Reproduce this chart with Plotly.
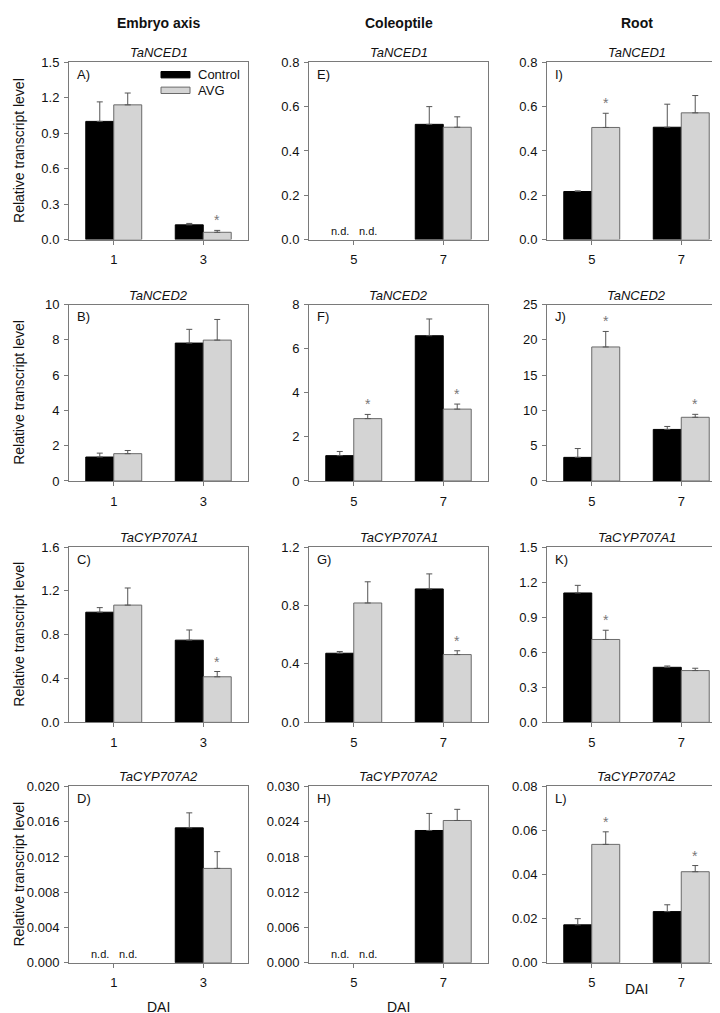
import plotly.graph_objects as go

# ---------------- data ----------------
tissues = ["Embryo axis", "Coleoptile", "Root"]
genes = ["TaNCED1", "TaNCED2", "TaCYP707A1", "TaCYP707A2"]
days_embryo = ["1", "3"]
days_coleoptile = ["5", "7"]
days_root = ["5", "7"]
letters = [["A)", "E)", "I)"], ["B)", "F)", "J)"], ["C)", "G)", "K)"], ["D)", "H)", "L)"]]

# None = n.d. (not detected)
a_ctrl = [1.00, 0.125]; a_ctrl_err = [0.165, 0.012]; a_avg = [1.14, 0.062]; a_avg_err = [0.10, 0.016]; a_sig = [False, True]
e_ctrl = [None, 0.52]; e_ctrl_err = [0, 0.08]; e_avg = [None, 0.507]; e_avg_err = [0, 0.047]; e_sig = [False, False]
i_ctrl = [0.217, 0.507]; i_ctrl_err = [0.003, 0.104]; i_avg = [0.506, 0.572]; i_avg_err = [0.064, 0.078]; i_sig = [True, False]

b_ctrl = [1.36, 7.82]; b_ctrl_err = [0.22, 0.78]; b_avg = [1.55, 7.99]; b_avg_err = [0.18, 1.17]; b_sig = [False, False]
f_ctrl = [1.15, 6.59]; f_ctrl_err = [0.19, 0.76]; f_avg = [2.83, 3.26]; f_avg_err = [0.19, 0.23]; f_sig = [True, True]
j_ctrl = [3.35, 7.31]; j_ctrl_err = [1.25, 0.42]; j_avg = [19.0, 9.03]; j_avg_err = [2.2, 0.42]; j_sig = [True, True]

c_ctrl = [1.005, 0.75]; c_ctrl_err = [0.042, 0.093]; c_avg = [1.07, 0.416]; c_avg_err = [0.156, 0.048]; c_sig = [False, True]
g_ctrl = [0.473, 0.913]; g_ctrl_err = [0.012, 0.103]; g_avg = [0.817, 0.464]; g_avg_err = [0.145, 0.026]; g_sig = [False, True]
k_ctrl = [1.107, 0.471]; k_ctrl_err = [0.065, 0.011]; k_avg = [0.709, 0.443]; k_avg_err = [0.079, 0.02]; k_sig = [True, False]

d_ctrl = [None, 0.0153]; d_ctrl_err = [0, 0.0017]; d_avg = [None, 0.0107]; d_avg_err = [0, 0.0019]; d_sig = [False, False]
h_ctrl = [None, 0.0225]; h_ctrl_err = [0, 0.0029]; h_avg = [None, 0.0242]; h_avg_err = [0, 0.0019]; h_sig = [False, False]
l_ctrl = [0.0172, 0.0232]; l_ctrl_err = [0.0028, 0.0031]; l_avg = [0.0537, 0.0413]; l_avg_err = [0.0057, 0.0028]; l_sig = [True, True]

# y axis max, tick step, tick format per panel
a_axis = (1.5, 0.3, ".1f"); e_axis = (0.8, 0.2, ".1f"); i_axis = (0.8, 0.2, ".1f")
b_axis = (10, 2, "d"); f_axis = (8, 2, "d"); j_axis = (25, 5, "d")
c_axis = (1.6, 0.4, ".1f"); g_axis = (1.2, 0.4, ".1f"); k_axis = (1.5, 0.3, ".1f")
d_axis = (0.020, 0.004, ".3f"); h_axis = (0.030, 0.006, ".3f"); l_axis = (0.08, 0.02, ".2f")

panels = [
    [(days_embryo, a_ctrl, a_ctrl_err, a_avg, a_avg_err, a_sig, a_axis),
     (days_coleoptile, e_ctrl, e_ctrl_err, e_avg, e_avg_err, e_sig, e_axis),
     (days_root, i_ctrl, i_ctrl_err, i_avg, i_avg_err, i_sig, i_axis)],
    [(days_embryo, b_ctrl, b_ctrl_err, b_avg, b_avg_err, b_sig, b_axis),
     (days_coleoptile, f_ctrl, f_ctrl_err, f_avg, f_avg_err, f_sig, f_axis),
     (days_root, j_ctrl, j_ctrl_err, j_avg, j_avg_err, j_sig, j_axis)],
    [(days_embryo, c_ctrl, c_ctrl_err, c_avg, c_avg_err, c_sig, c_axis),
     (days_coleoptile, g_ctrl, g_ctrl_err, g_avg, g_avg_err, g_sig, g_axis),
     (days_root, k_ctrl, k_ctrl_err, k_avg, k_avg_err, k_sig, k_axis)],
    [(days_embryo, d_ctrl, d_ctrl_err, d_avg, d_avg_err, d_sig, d_axis),
     (days_coleoptile, h_ctrl, h_ctrl_err, h_avg, h_avg_err, h_sig, h_axis),
     (days_root, l_ctrl, l_ctrl_err, l_avg, l_avg_err, l_sig, l_axis)],
]

# ---------------- layout / style ----------------
W, H = 720, 1013
FONT = "Arial, Liberation Sans, Helvetica, sans-serif"
AXIS_COLOR = "#7a7a7a"
CTRL_COLOR = "#000000"
AVG_COLOR = "#d4d4d4"
AVG_LINE = "#6a6a6a"
ERR_COLOR = "#555555"
BARGAP = 0.375
cols_px = [(61, 240), (301, 480), (539, 718)]
rows_px = [(48, 228), (294, 473), (540, 718), (783, 962)]

fig = go.Figure()
annotations = []
shapes = []
layout_axes = {}
half = (1 - BARGAP) / 4  # offset of each bar centre from category centre

for r in range(4):
    for c in range(3):
        idx = r * 3 + c + 1
        xa = "x" if idx == 1 else f"x{idx}"
        ya = "y" if idx == 1 else f"y{idx}"
        days, ctrl, ctrl_err, avg, avg_err, sig, (ymax, dt, fmt) = panels[r][c]
        x0, x1 = cols_px[c]
        y0, y1 = rows_px[r]

        fig.add_trace(go.Bar(
            x=days, y=ctrl, name="Control", xaxis=xa, yaxis=ya, showlegend=False,
            marker=dict(color=CTRL_COLOR, line=dict(color=CTRL_COLOR, width=1)),
            error_y=dict(type="data", array=ctrl_err, arrayminus=[0] * len(ctrl_err), symmetric=False,
                         color=ERR_COLOR, thickness=1, width=3),
        ))
        fig.add_trace(go.Bar(
            x=days, y=avg, name="AVG", xaxis=xa, yaxis=ya, showlegend=False,
            marker=dict(color=AVG_COLOR, line=dict(color=AVG_LINE, width=1)),
            error_y=dict(type="data", array=avg_err, arrayminus=[0] * len(avg_err), symmetric=False,
                         color=ERR_COLOR, thickness=1, width=3),
        ))

        xkey = "xaxis" if idx == 1 else f"xaxis{idx}"
        ykey = "yaxis" if idx == 1 else f"yaxis{idx}"
        layout_axes[xkey] = dict(
            domain=[x0 / W, x1 / W], anchor=ya, type="category", range=[-0.5, len(days) - 0.5],
            showline=True, linecolor=AXIS_COLOR, linewidth=1, mirror=True,
            ticks="outside", ticklen=4, tickcolor=AXIS_COLOR, tickwidth=1,
            showgrid=False, zeroline=False, ticklabelstandoff=4,
            tickfont=dict(family=FONT, size=13, color="#111"),
        )
        layout_axes[ykey] = dict(
            domain=[1 - y1 / H, 1 - y0 / H], anchor=xa, range=[0, ymax],
            tick0=0, dtick=dt, tickformat=fmt,
            showline=True, linecolor=AXIS_COLOR, linewidth=1, mirror=True,
            ticks="outside", ticklen=4, tickcolor=AXIS_COLOR, tickwidth=1,
            showgrid=False, zeroline=False, ticklabelstandoff=2,
            tickfont=dict(family=FONT, size=13, color="#111"),
        )

        # gene title
        annotations.append(dict(text=f"<i>{genes[r]}</i>", xref=f"{xa} domain", yref=f"{ya} domain",
                                x=0.5, y=1, yanchor="bottom", yshift=0, showarrow=False,
                                font=dict(family=FONT, size=13, color="#111")))
        # panel letter
        annotations.append(dict(text=letters[r][c], xref=f"{xa} domain", yref=f"{ya} domain",
                                x=0.035, y=0.93, xanchor="left", yanchor="middle", showarrow=False,
                                font=dict(family=FONT, size=13, color="#111")))
        # n.d. and significance marks
        for k, d in enumerate(days):
            if ctrl[k] is None:
                annotations.append(dict(text="n.d.", xref=xa, yref=ya, x=k - half, y=0,
                                        yanchor="bottom", yshift=1, showarrow=False,
                                        font=dict(family=FONT, size=11, color="#111")))
            if avg[k] is None:
                annotations.append(dict(text="n.d.", xref=xa, yref=ya, x=k + half, y=0,
                                        yanchor="bottom", yshift=1, showarrow=False,
                                        font=dict(family=FONT, size=11, color="#111")))
            if sig[k]:
                annotations.append(dict(text="*", xref=xa, yref=ya, x=k + half, y=avg[k] + avg_err[k],
                                        yanchor="bottom", yshift=0, showarrow=False,
                                        font=dict(family=FONT, size=14, color="#777")))

    # y axis title (first column only)
    y0, y1 = rows_px[r]
    annotations.append(dict(text="Relative transcript level", xref="paper", yref="paper",
                            x=11 / W, y=1 - (y0 + y1) / 2 / H, textangle=-90,
                            xanchor="center", yanchor="middle", showarrow=False,
                            font=dict(family=FONT, size=14, color="#111")))

# column headers
for c, t in enumerate(tissues):
    x0, x1 = cols_px[c]
    annotations.append(dict(text=f"<b>{t}</b>", xref="paper", yref="paper",
                            x=(x0 + x1) / 2 / W, y=1 - 8 / H, xanchor="center", yanchor="middle",
                            showarrow=False, font=dict(family=FONT, size=14, color="#111")))

# DAI labels
dai_y = [1007, 1007, 989]
for c in range(3):
    x0, x1 = cols_px[c]
    annotations.append(dict(text="DAI", xref="paper", yref="paper",
                            x=(x0 + x1) / 2 / W, y=1 - dai_y[c] / H, xanchor="center", yanchor="middle",
                            showarrow=False, font=dict(family=FONT, size=14, color="#111")))

# legend in panel A
leg_items = [("Control", CTRL_COLOR, CTRL_COLOR, 0.93), ("AVG", AVG_COLOR, AVG_LINE, 0.842)]
for name, fc, lc, yc in leg_items:
    shapes.append(dict(type="rect", xref="x domain", yref="y domain",
                       x0=0.514, x1=0.676, y0=yc - 0.018, y1=yc + 0.018,
                       fillcolor=fc, line=dict(color=lc, width=1)))
    annotations.append(dict(text=name, xref="x domain", yref="y domain", x=0.71, y=yc,
                            xanchor="left", yanchor="middle", showarrow=False,
                            font=dict(family=FONT, size=13, color="#111")))

fig.update_layout(
    width=W, height=H, margin=dict(l=0, r=0, t=0, b=0),
    paper_bgcolor="white", plot_bgcolor="white",
    barmode="group", bargap=BARGAP, bargroupgap=0,
    annotations=annotations, shapes=shapes, showlegend=False,
    font=dict(family=FONT, size=13, color="#111"),
    **layout_axes,
)

fig.write_html("out.html")
